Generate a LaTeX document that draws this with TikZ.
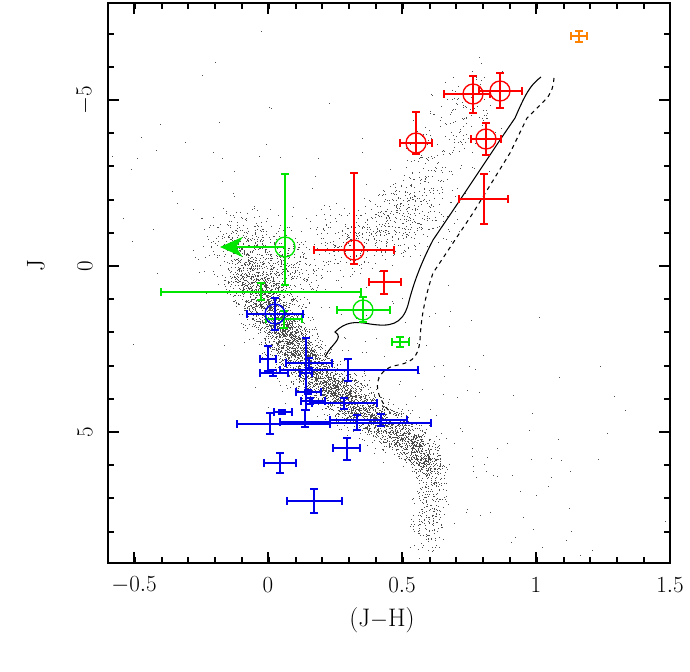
\documentclass[tikz,border=0pt]{standalone}
\usetikzlibrary{arrows.meta}
\definecolor{ptred}{RGB}{255,0,0}
\definecolor{ptgreen}{RGB}{0,230,0}
\definecolor{ptblue}{RGB}{0,0,235}
\definecolor{ptorange}{RGB}{255,130,0}
\tikzset{
  frame/.style={line width=1.4pt},
  errbar/.style={line width=1.5pt},
  ring/.style={line width=1pt},
  ticklab/.style={font=\fontsize{19}{23}\selectfont},
}
% error bar: colour, x, y, left, right, top, bottom (pixels)
\newcommand{\ebar}[7]{
  \draw[errbar,#1] (#4,#3) -- (#5,#3) (#2,#6) -- (#2,#7);
  \draw[errbar,#1] (#4,#3-4) -- (#4,#3+4) (#5,#3-4) -- (#5,#3+4);
  \draw[errbar,#1] (#2-4,#6) -- (#2+4,#6) (#2-4,#7) -- (#2+4,#7);
}
\begin{document}
\begin{tikzpicture}[x=0.75pt,y=-0.75pt]
\useasboundingbox (0,0) rectangle (690,672);

% scatter of field stars
\begin{scope}
\clip (108,3) rectangle (670,563);
\pgfmathsetseed{11}
\foreach \ax/\ay/\bx/\by/\n/\w in {
  250/275/275/320/500/24, 275/320/310/370/1200/24, 310/370/360/410/1200/22,
  360/410/410/440/800/20, 410/440/432/470/450/16, 432/470/425/540/250/16,
  225/235/300/285/700/35, 320/250/430/210/500/35, 400/225/480/85/300/35,
  200/150/560/530/200/120, 240/270/290/330/400/22}
{
  \foreach \k in {1,...,\n}
  {
    \pgfmathsetmacro\t{rnd}
    \pgfmathsetmacro\px{\ax+(\bx-\ax)*\t+\w*(rnd+rnd+rnd-1.5)}
    \pgfmathsetmacro\py{\ay+(\by-\ay)*\t+\w*(rnd+rnd+rnd-1.5)}
    \fill[black!70] (\px,\py) rectangle ++(0.9,0.9);
  }
}
\end{scope}

% isochrones
\draw[thick] (541,77) .. controls (530,85) and (525,95) .. (515,118)
  -- (500,140) -- (460,200) -- (433,240) .. controls (420,265) and (413,285) .. (408,305)
  .. controls (402,325) and (390,327) .. (370,324)
  .. controls (355,321) and (345,322) .. (335,332)
  .. controls (345,338) and (330,345) .. (325,357);
\draw[thick,dashed] (554,78) .. controls (553,90) and (550,95) .. (545,100)
  -- (527,118) -- (510,153) -- (473,213) -- (433,273)
  .. controls (424,300) and (421,320) .. (420,340)
  .. controls (418,360) and (410,363) .. (393,366)
  .. controls (376,372) and (370,390) .. (390,412);

% frame and ticks
\draw[frame] (108,3) rectangle (670,563);
\foreach \i in {0,...,20}
{
  \draw[frame] (108+26.8*\i,563) -- (108+26.8*\i,557);
  \draw[frame] (108+26.8*\i,3) -- (108+26.8*\i,9);
}
\foreach \i in {0,...,4}
{
  \draw[frame] (134+134*\i,563) -- (134+134*\i,552);
  \draw[frame] (134+134*\i,3) -- (134+134*\i,14);
}
\foreach \i in {-7,...,8}
{
  \draw[frame] (108,266+33.2*\i) -- (114,266+33.2*\i);
  \draw[frame] (670,266+33.2*\i) -- (664,266+33.2*\i);
}
\foreach \i in {-1,0,1}
{
  \draw[frame] (108,266+166*\i) -- (119,266+166*\i);
  \draw[frame] (670,266+166*\i) -- (659,266+166*\i);
}

\node[ticklab] (xm05) at (134,585) {$-0.5$};
\node[ticklab] (x0) at (268,585) {$0$};
\node[ticklab] (x05) at (402,585) {$0.5$};
\node[ticklab] (x1) at (536,585) {$1$};
\node[ticklab] (x15) at (670,585) {$1.5$};
\node[ticklab] (xlab) at (382,620) {(J$-$H)};
\node[ticklab,rotate=90] (ym5) at (85,100) {$-5$};
\node[ticklab,rotate=90] (y0) at (85,266) {$0$};
\node[ticklab,rotate=90] (y5) at (85,432) {$5$};
\node[ticklab,rotate=90] (ylab) at (36,266) {J};

% red points
\ebar{ptred}{473}{94}{444}{490}{76}{113}
\ebar{ptred}{500}{91}{479}{522}{73}{108}
\ebar{ptred}{416}{143}{400}{432}{112}{154}
\ebar{ptred}{486}{139}{471}{501}{123}{155}
\ebar{ptred}{484}{199}{459}{508}{174}{224}
\ebar{ptred}{354}{250}{314}{394}{173}{264}
\ebar{ptred}{384}{282}{369}{401}{271}{294}
\foreach \cx/\cy in {473/94,500/91,416/143,486/139,354/250}
  \draw[ring,ptred] (\cx,\cy) circle (10);

% green points
\ebar{ptgreen}{285}{247}{285}{285}{174}{285}
\coordinate (arrtail) at (285,247);
\coordinate (arrhead) at (220,247);
\draw[errbar,ptgreen,-{Stealth[length=17pt,width=15pt,inset=5pt]}] (arrtail) -- (arrhead);
\ebar{ptgreen}{261}{292}{161}{361}{283}{300}
\ebar{ptgreen}{363}{310}{337}{390}{297}{322}
\ebar{ptgreen}{284}{319}{266}{302}{311}{328}
\ebar{ptgreen}{400}{342}{392}{409}{337}{347}
\foreach \cx/\cy in {285/247,363/310}
  \draw[ring,ptgreen] (\cx,\cy) circle (10);

% orange point
\ebar{ptorange}{579}{36}{571}{587}{31}{42}

% blue points
\ebar{ptblue}{275}{314}{247}{303}{298}{330}
\draw[ring,ptblue] (275,314) circle (10);
\ebar{ptblue}{268}{359}{260}{276}{346}{371}
\ebar{ptblue}{306}{373}{300}{312}{338}{410}
\ebar{ptblue}{309}{363}{286}{332}{358}{368}
\ebar{ptblue}{348}{370}{280}{418}{359}{381}
\ebar{ptblue}{273}{373}{260}{288}{370}{376}
\ebar{ptblue}{308}{392}{296}{321}{390}{394}
\ebar{ptblue}{310}{401}{301}{325}{398}{404}
\ebar{ptblue}{344}{403}{312}{377}{398}{409}
\ebar{ptblue}{270}{424}{237}{330}{413}{434}
\ebar{ptblue}{282}{412}{274}{292}{410}{414}
\ebar{ptblue}{305}{422}{280}{330}{410}{427}
\ebar{ptblue}{357}{423}{330}{431}{415}{430}
\ebar{ptblue}{381}{420}{330}{407}{414}{426}
\ebar{ptblue}{347}{448}{333}{360}{438}{460}
\ebar{ptblue}{280}{463}{264}{296}{453}{473}
\ebar{ptblue}{314}{501}{287}{342}{489}{513}

\end{tikzpicture}
\end{document}
